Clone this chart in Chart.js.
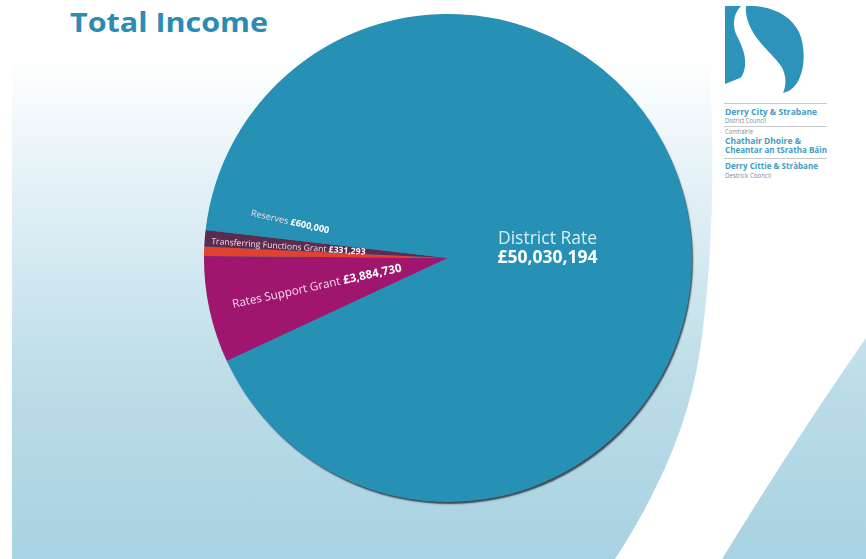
<!DOCTYPE html>
<html>
<head>
<meta charset="utf-8">
<title>Total Income</title>
<script src="https://cdn.jsdelivr.net/npm/chart.js@4.4.1/dist/chart.umd.min.js"></script>
<style>
  html, body { margin: 0; padding: 0; width: 866px; height: 559px; overflow: hidden; background: #ffffff; }
  #wrap { position: relative; width: 866px; height: 559px; }
  #backdrop, #income { position: absolute; left: 0; top: 0; }
</style>
</head>
<body>
<div id="wrap">
  <svg id="backdrop" width="866" height="559" viewBox="0 0 866 559" xmlns="http://www.w3.org/2000/svg">
    <defs>
      <linearGradient id="wash" gradientUnits="userSpaceOnUse" x1="0" y1="0" x2="0" y2="559">
        <stop offset="0" stop-color="#ffffff"/>
        <stop offset="0.1" stop-color="#ffffff"/>
        <stop offset="0.36" stop-color="#e0eff5"/>
        <stop offset="0.68" stop-color="#bcdde8"/>
        <stop offset="1" stop-color="#a8d2e2"/>
      </linearGradient>
    </defs>
    <!-- pale blue swathes either side of the white swoosh -->
    <path d="M12,0 L705,0 C716,120 715,250 700,350 C690,420 660,490 615,559 L12,559 Z" fill="url(#wash)"/>
    <path d="M866,338 Q795,440 722,559 L866,559 Z" fill="url(#wash)"/>

    <!-- heading -->
    <text x="70" y="32" font-family="'Open Sans', sans-serif" font-weight="700" font-size="26"
          fill="#2a8cb5" textLength="198" lengthAdjust="spacingAndGlyphs">Total Income</text>

    <!-- council crest -->
    <g fill="#2e93bb">
      <path d="M725,6 L741,6 C733,14 732,26 737,36 C742,46 746,55 745,66 C744,73 742,77 740,78 L725,84 Z"/>
      <path d="M746,6 C770,5 790,14 799,32 C806,48 805,70 797,83 C793,89 788,92 783,93 C787,84 786,74 781,66 C774,56 764,48 756,37 C749,27 745,16 746,6 Z"/>
    </g>
    <g stroke="#c9c9c9" stroke-width="1">
      <line x1="724" y1="103.5" x2="827" y2="103.5"/>
      <line x1="724" y1="126.5" x2="827" y2="126.5"/>
      <line x1="724" y1="158.5" x2="827" y2="158.5"/>
    </g>
    <g font-family="'Open Sans', sans-serif">
      <text x="725" y="114.5" font-size="8" font-weight="700" fill="#3f9cc2" textLength="92" lengthAdjust="spacingAndGlyphs">Derry City &amp; Strabane</text>
      <text x="725" y="122.5" font-size="6.5" fill="#7d8a90" textLength="41" lengthAdjust="spacingAndGlyphs">District Council</text>
      <text x="725" y="133.5" font-size="6.5" fill="#7d8a90" textLength="28" lengthAdjust="spacingAndGlyphs">Comhairle</text>
      <text x="725" y="143.5" font-size="8" font-weight="700" fill="#3f9cc2" textLength="76" lengthAdjust="spacingAndGlyphs">Chathair Dhoire &amp;</text>
      <text x="725" y="152.5" font-size="8" font-weight="700" fill="#3f9cc2" textLength="102" lengthAdjust="spacingAndGlyphs">Cheantar an tSratha Báin</text>
      <text x="725" y="169" font-size="8" font-weight="700" fill="#3f9cc2" textLength="93" lengthAdjust="spacingAndGlyphs">Derry Cittie &amp; Stràbane</text>
      <text x="725" y="177.5" font-size="6.5" fill="#7d8a90" textLength="46" lengthAdjust="spacingAndGlyphs">Destrick Cooncil</text>
    </g>
  </svg>
  <canvas id="income" width="866" height="559"></canvas>
</div>

<script>
// Income sources, in pounds
const categories = ['Rates Support Grant', 'Transferring Functions Grant', 'Reserves', 'District Rate'];
const income = [3884730, 331293, 600000, 50030194];

// Slice fills, same order as the categories
const sliceColours = ['#a0166e', '#e2412f', '#5c2c4f', '#2690b5'];

// How each slice's label is set: distance from the centre, angular nudge, type size, layout
const labelStyle = [
  { radius: 134, nudge: 0,   size: 11.6, layout: 'inline' },
  { radius: 160, nudge: 2.4, size: 8.6,  layout: 'inline' },
  { radius: 162, nudge: 8.2, size: 9.2,  layout: 'inline' },
  { radius: 100, nudge: 3.5, size: 17.5, layout: 'stacked' }
];

const money = v => '£' + v.toLocaleString('en-GB');
const FONT = "'Open Sans', sans-serif";

// Dark rim along the lower right of the pie
const rimShadow = {
  id: 'rimShadow',
  beforeDatasetsDraw(chart) {
    const arc = chart.getDatasetMeta(0).data[0];
    if (!arc) return;
    const { x, y, outerRadius } = arc.getProps(['x', 'y', 'outerRadius'], true);
    const ctx = chart.ctx;
    ctx.save();
    ctx.shadowColor = 'rgba(55,66,76,0.95)';
    ctx.shadowOffsetX = 1.5;
    ctx.shadowOffsetY = 2.5;
    ctx.shadowBlur = 1.5;
    ctx.beginPath();
    ctx.arc(x, y, outerRadius - 0.5, 0, Math.PI * 2);
    ctx.fillStyle = sliceColours[sliceColours.length - 1];
    ctx.fill();
    ctx.restore();
  }
};

// Name and amount written on each slice
const sliceLabels = {
  id: 'sliceLabels',
  afterDatasetsDraw(chart) {
    const ctx = chart.ctx;
    chart.getDatasetMeta(0).data.forEach((arc, i) => {
      const p = arc.getProps(['x', 'y', 'startAngle', 'endAngle'], true);
      const st = labelStyle[i];
      const mid = (p.startAngle + p.endAngle) / 2 + st.nudge * Math.PI / 180;
      const cx = p.x + st.radius * Math.cos(mid);
      const cy = p.y + st.radius * Math.sin(mid);
      const name = categories[i];
      const amount = money(income[i]);
      ctx.save();
      ctx.translate(cx, cy);
      ctx.textBaseline = 'middle';
      if (st.layout === 'stacked') {
        ctx.textAlign = 'center';
        ctx.font = `400 ${st.size}px ${FONT}`;
        ctx.fillStyle = '#d9eff7';
        ctx.fillText(name, 0, -9.5);
        ctx.font = `700 ${st.size}px ${FONT}`;
        ctx.fillStyle = '#ffffff';
        ctx.fillText(amount, 0, 9.5);
      } else {
        // text runs outward-to-centre along the slice
        ctx.rotate(mid - Math.PI);
        ctx.textAlign = 'left';
        ctx.font = `400 ${st.size}px ${FONT}`;
        const w1 = ctx.measureText(name + ' ').width;
        ctx.font = `700 ${st.size}px ${FONT}`;
        const w2 = ctx.measureText(amount).width;
        const x0 = -(w1 + w2) / 2;
        ctx.font = `400 ${st.size}px ${FONT}`;
        ctx.fillStyle = '#f3dcea';
        ctx.fillText(name + ' ', x0, 0);
        ctx.font = `700 ${st.size}px ${FONT}`;
        ctx.fillStyle = '#ffffff';
        ctx.fillText(amount, x0 + w1, 0);
      }
      ctx.restore();
    });
  }
};

new Chart(document.getElementById('income'), {
  type: 'pie',
  data: {
    labels: categories,
    datasets: [{
      data: income,
      backgroundColor: sliceColours,
      borderWidth: 0,
      hoverOffset: 0,
      offset: 0
    }]
  },
  options: {
    responsive: false,
    animation: false,
    events: [],
    rotation: 245,
    layout: { padding: { left: 30, right: 0, top: 14, bottom: 57 } },
    plugins: {
      legend: { display: false },
      tooltip: { enabled: false },
      title: { display: false }
    }
  },
  plugins: [rimShadow, sliceLabels]
});
</script>
</body>
</html>
